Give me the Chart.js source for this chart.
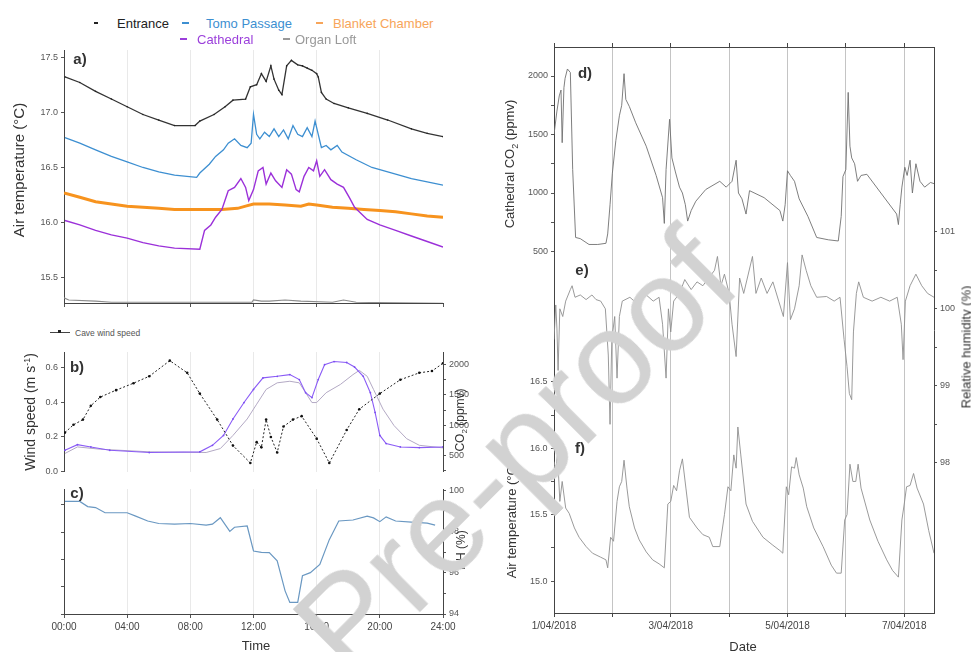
<!DOCTYPE html>
<html>
<head>
<meta charset="utf-8">
<script src="https://cdn.jsdelivr.net/npm/chart.js@4.4.1/dist/chart.umd.min.js"></script>
<style>
  body { margin: 0; background: #fff; font-family: "Liberation Sans", Arial, sans-serif; }
  #fig { position: relative; width: 971px; height: 652px; overflow: hidden; background: #fff; }
  #fig canvas { position: absolute; }
  .t { position: absolute; white-space: nowrap; color: #333; transform: translate(-50%, -50%); z-index: 3; }
  .v { transform: translate(-50%, -50%) rotate(-90deg); }
  .pl { font-weight: bold; font-size: 15px; color: #333; }
  .lg { position: absolute; white-space: nowrap; font-size: 13px; transform: translateY(-50%); z-index: 3; }
  .mk { position: absolute; height: 1.5px; width: 7px; z-index: 3; }
  #wm { position: absolute; left: 515px; top: 452px; transform: translate(-50%, -50%) rotate(-45deg);
        font-size: 134px; line-height: 1; color: #d2d2d2; white-space: nowrap; z-index: 5; }
</style>
</head>
<body>
<div id="fig">
  <canvas id="cA" width="471" height="275" style="left:0;top:40px"></canvas>
  <canvas id="cB" width="471" height="140" style="left:0;top:340px"></canvas>
  <canvas id="cC" width="471" height="172" style="left:0;top:480px"></canvas>
  <canvas id="cR" width="491" height="622" style="left:480px;top:30px"></canvas>

  <!-- legende pannello a -->
  <span class="mk" style="left:94px;top:22px;background:#222;width:4px;height:2px"></span>
  <span class="lg" style="left:117px;top:23px;color:#222">Entrance</span>
  <span class="mk" style="left:182px;top:22px;background:#3d8fd1"></span>
  <span class="lg" style="left:206px;top:23px;color:#3d8fd1">Tomo Passage</span>
  <span class="mk" style="left:316px;top:22px;background:#f7a55a"></span>
  <span class="lg" style="left:333px;top:23px;color:#f7a55a">Blanket Chamber</span>
  <span class="mk" style="left:180px;top:38px;background:#9b3fdb"></span>
  <span class="lg" style="left:197px;top:39px;color:#9b3fdb">Cathedral</span>
  <span class="mk" style="left:283px;top:38px;background:#999"></span>
  <span class="lg" style="left:295px;top:39px;color:#999">Organ Loft</span>

  <!-- legenda pannello b -->
  <span class="mk" style="left:50px;top:332px;background:#444;width:20px;height:1px"></span>
  <span class="mk" style="left:58px;top:330px;background:#222;width:3px;height:3px"></span>
  <span class="lg" style="left:75px;top:333px;color:#555;font-size:8.5px">Cave wind speed</span>

  <!-- titoli assi -->
  <div class="t v" style="left:18px;top:170px;font-size:15px">Air temperature (°C)</div>
  <div class="t v" style="left:30px;top:412px;font-size:14px">Wind speed (m s<sup style="font-size:9px">-1</sup>)</div>
  <div class="t v" style="left:461px;top:420px;font-size:12px">CO<sub style="font-size:8px">2</sub> (ppmv)</div>
  <div class="t v" style="left:461px;top:550px;font-size:12px">RH (%)</div>
  <div class="t" style="left:256px;top:645px;font-size:13px">Time</div>
  <div class="t v" style="left:511px;top:164px;font-size:13px">Cathedral CO<sub style="font-size:9px">2</sub> (ppmv)</div>
  <div class="t v" style="left:511px;top:520px;font-size:13px">Air temperature (°C)</div>
  <div class="t v" style="left:966px;top:347px;font-size:13px">Relative humidity (%)</div>
  <div class="t" style="left:743px;top:646px;font-size:13px">Date</div>

  <!-- etichette pannelli -->
  <div class="t pl" style="left:80px;top:58px">a)</div>
  <div class="t pl" style="left:77px;top:366px">b)</div>
  <div class="t pl" style="left:77px;top:492px">c)</div>
  <div class="t pl" style="left:585px;top:72px">d)</div>
  <div class="t pl" style="left:582px;top:269px">e)</div>
  <div class="t pl" style="left:580px;top:447px">f)</div>

  <div id="wm">Pre-proof</div>
</div>

<script>
// --- a) temperatura dell'aria per sito (ora del giorno, °C) ---
const entHr  = [0.06,1,2,3,4,5,6,7,8.3,8.6,9.5,10.2,10.7,11.5,11.8,12.2,12.5,12.8,13.1,13.3,13.6,13.8,14.1,14.4,14.8,15.1,15.4,15.7,16.0,16.1,16.3,16.6,17.1,18,19.2,20.5,22,23,24];
const entT   = [17.32,17.27,17.19,17.12,17.05,16.98,16.93,16.88,16.88,16.92,16.98,17.05,17.11,17.12,17.23,17.25,17.35,17.28,17.42,17.30,17.2,17.16,17.42,17.47,17.43,17.42,17.4,17.38,17.35,17.32,17.18,17.12,17.08,17.04,16.99,16.93,16.85,16.81,16.78];
const tomoHr = [0.06,1,2,3,4,5,6,7,8.4,8.6,9.2,9.6,10.1,10.4,10.8,11.2,11.6,11.85,12.0,12.2,12.4,12.7,13.0,13.3,13.6,13.9,14.2,14.5,14.8,15.1,15.4,15.7,15.9,16.1,16.3,16.6,16.9,17.3,17.6,18.5,19.5,20.5,22,23,24];
const tomoT  = [16.77,16.72,16.66,16.6,16.55,16.5,16.46,16.43,16.41,16.45,16.53,16.6,16.66,16.72,16.76,16.7,16.68,16.72,16.98,16.8,16.76,16.82,16.78,16.85,16.78,16.84,16.76,16.88,16.8,16.78,16.86,16.78,16.92,16.8,16.68,16.7,16.66,16.7,16.64,16.57,16.5,16.46,16.4,16.37,16.34];
const cathHr = [0.06,1,2,3,4,5,6,7,8.6,8.9,9.3,9.6,10.0,10.4,10.8,11.2,11.5,11.7,12.0,12.3,12.6,12.8,13.1,13.4,13.8,14.1,14.4,14.7,14.9,15.2,15.5,15.8,16.0,16.2,16.5,16.9,17.3,17.7,18.1,18.4,19.2,20,21,22,23,24];
const cathT  = [16.02,15.98,15.93,15.89,15.86,15.82,15.79,15.77,15.76,15.93,15.98,16.05,16.12,16.29,16.32,16.4,16.32,16.2,16.3,16.47,16.5,16.35,16.45,16.38,16.32,16.48,16.44,16.3,16.28,16.42,16.5,16.47,16.56,16.42,16.48,16.39,16.35,16.32,16.22,16.14,16.03,15.98,15.93,15.88,15.83,15.78];
const blanketHr = [0,1,2,3,4,5,6,7,8,9,10,11,11.5,12,13,14,15,15.5,16,17,18,19,20,21,22,23,24];
const blanketT  = [16.27,16.23,16.19,16.17,16.15,16.14,16.13,16.12,16.12,16.12,16.12,16.13,16.15,16.17,16.17,16.16,16.15,16.17,16.16,16.14,16.13,16.12,16.11,16.1,16.08,16.06,16.05];
const organHr = [0,0.3,2,3,8,11.9,12,12.5,13,14,15,17,17.7,18.5,24];
const organT  = [15.32,15.3,15.29,15.28,15.28,15.28,15.3,15.29,15.29,15.3,15.29,15.28,15.3,15.28,15.27];

// --- b) vento (m/s) e CO2 (ppmv) ---
const windHr = [0.06,0.6,1.2,1.7,2.3,3.3,4.4,5.4,6.7,7.8,8.6,9.7,10.7,11.8,12.2,12.5,12.8,13.1,13.5,13.9,14.5,15.05,16.0,16.8,17.9,18.7,20.0,21.3,22.5,23.3,24.0];
const windMs = [0.225,0.27,0.30,0.38,0.43,0.47,0.51,0.55,0.64,0.57,0.45,0.30,0.15,0.05,0.17,0.14,0.30,0.20,0.11,0.26,0.30,0.32,0.19,0.05,0.24,0.36,0.45,0.53,0.57,0.58,0.625];
const co2CathHr = [0.06,0.85,1.7,2.9,5.4,8.6,9.4,10.1,10.7,11.4,12.0,12.6,13.5,14.3,14.9,15.3,15.7,16.1,16.5,17.1,17.9,18.4,18.95,19.4,19.7,20.0,20.4,21.3,22.5,24];
const co2Cath   = [586,679,641,586,549,560,668,831,1103,1375,1592,1783,1809,1837,1755,1538,1457,1755,2000,2053,2037,1962,1809,1538,1212,831,696,641,630,641];
const co2OrganHr = [0.06,0.85,2.3,5.4,9.0,9.9,10.7,11.6,12.2,12.8,13.5,14.3,14.9,15.3,15.7,16.0,16.6,17.5,18.3,18.7,19.2,19.6,20.2,20.9,21.7,22.5,24];
const co2Organ   = [533,641,603,560,549,614,831,1103,1348,1592,1701,1727,1701,1538,1375,1375,1538,1674,1837,1907,1809,1592,1266,994,777,668,625];

// --- c) umidità relativa (%) ---
const rhHr = [0.06,1.0,1.5,2,2.6,4,4.5,5.3,6,7,8,9,9.4,9.9,10.5,10.8,11.6,12.0,12.5,13.0,13.5,14.0,14.3,14.8,15.1,15.6,16.2,16.8,17.4,18.3,19.2,19.6,20.0,20.4,21.0,22.0,23.0,23.5];
const rhPct = [99.45,99.45,99.2,99.15,98.9,98.9,98.75,98.5,98.38,98.35,98.38,98.3,98.35,98.66,98.0,98.2,98.26,97.05,96.98,96.97,96.57,95.12,94.56,94.56,95.85,96.0,96.4,97.6,98.5,98.55,98.74,98.65,98.47,98.7,98.5,98.45,98.4,98.3];

// --- d/e/f) serie settimanale (giorni dal 1/04/2018) ---
const dDays = [0.0,0.05,0.09,0.12,0.14,0.17,0.19,0.23,0.28,0.32,0.37,0.45,0.6,0.75,0.89,0.92,0.96,1.0,1.06,1.12,1.16,1.2,1.23,1.29,1.4,1.58,1.75,1.86,1.89,1.92,1.98,2.02,2.08,2.15,2.2,2.25,2.29,2.35,2.43,2.6,2.84,2.95,3.05,3.12,3.16,3.22,3.29,3.35,3.6,3.87,3.92,3.96,4.0,4.05,4.12,4.2,4.27,4.35,4.5,4.7,4.87,4.92,4.95,5.0,5.04,5.07,5.1,5.15,5.2,5.26,5.36,5.6,5.87,5.9,5.93,5.96,6.01,6.05,6.1,6.14,6.2,6.27,6.35,6.45,6.51];
const dCO2  = [1500,1700,1830,1880,1430,1900,1980,2060,2030,1200,620,610,560,560,570,650,900,1170,1450,1660,1750,2020,1800,1740,1600,1400,1150,960,740,1200,1630,1300,1180,1050,1000,900,760,850,930,1030,1100,1050,1100,1280,1000,950,820,1020,960,850,760,900,1190,1150,1100,950,880,800,620,600,590,800,1140,1200,1860,1400,1300,1250,1100,1150,1160,1000,820,730,900,1050,1220,1150,1280,1000,1250,1100,1050,1090,1080];
const eDays = [0.0,0.03,0.05,0.07,0.1,0.15,0.2,0.28,0.31,0.36,0.45,0.55,0.65,0.72,0.8,0.88,0.93,0.96,0.99,1.04,1.08,1.12,1.17,1.3,1.45,1.55,1.7,1.8,1.86,1.92,1.96,2.0,2.05,2.15,2.24,2.35,2.45,2.55,2.65,2.75,2.8,2.86,2.92,3.0,3.05,3.12,3.18,3.25,3.4,3.46,3.55,3.65,3.75,3.85,3.93,4.0,4.05,4.12,4.2,4.25,4.32,4.4,4.5,4.67,4.8,4.9,4.97,5.02,5.06,5.1,5.13,5.18,5.22,5.3,5.45,5.6,5.75,5.88,5.95,5.98,6.02,6.1,6.2,6.3,6.4,6.51];
const eRH   = [99.6,100.05,99.75,99.2,100.0,99.9,100.1,100.25,100.3,100.15,100.18,100.12,100.18,100.12,100.1,100.0,99.4,98.5,99.6,99.9,99.1,99.9,100.1,100.15,100.05,100.2,100.1,100.15,99.8,99.1,100.0,99.7,100.1,100.2,100.38,100.25,100.35,100.3,100.4,100.5,100.68,100.3,100.45,100.2,99.8,99.38,100.4,100.2,100.68,100.2,100.4,100.2,100.35,100.1,99.9,100.6,99.86,100.0,100.3,100.7,100.5,100.3,100.15,100.16,100.1,100.15,99.6,99.25,98.9,98.82,99.7,100.2,100.35,100.15,100.1,100.15,100.1,100.15,99.8,99.34,100.1,100.3,100.45,100.3,100.2,100.15];
const fDays = [0.0,0.03,0.06,0.1,0.14,0.2,0.26,0.35,0.43,0.55,0.66,0.8,0.89,0.92,0.97,1.02,1.08,1.12,1.16,1.2,1.25,1.29,1.38,1.46,1.58,1.69,1.8,1.89,1.95,2.0,2.05,2.1,2.15,2.2,2.26,2.32,2.45,2.55,2.66,2.72,2.84,2.92,2.98,3.03,3.08,3.12,3.15,3.2,3.29,3.4,3.58,3.75,3.87,3.92,3.98,4.02,4.07,4.12,4.15,4.2,4.27,4.33,4.45,4.61,4.75,4.84,4.92,4.98,5.02,5.07,5.12,5.17,5.21,5.26,5.41,5.55,5.7,5.8,5.9,5.96,6.0,6.04,6.1,6.16,6.22,6.33,6.42,6.51];
const fTemp = [15.9,15.83,15.96,15.6,15.75,15.55,15.51,15.4,15.33,15.26,15.21,15.18,15.16,15.1,15.33,15.3,15.6,15.71,15.75,15.91,15.7,15.56,15.4,15.31,15.22,15.16,15.13,15.1,15.58,15.6,15.72,15.68,15.83,15.92,15.7,15.48,15.4,15.35,15.33,15.26,15.26,15.5,15.71,15.68,15.95,15.85,16.16,15.95,15.58,15.45,15.33,15.27,15.23,15.21,15.71,15.65,15.86,15.85,15.93,15.8,15.7,15.56,15.4,15.26,15.12,15.06,15.06,15.46,15.5,15.88,15.75,15.75,15.88,15.7,15.46,15.3,15.16,15.08,15.03,15.46,15.58,15.71,15.72,15.81,15.7,15.58,15.38,15.21];

// tick
const hourTicks = [0,4,8,12,16,20,24];
const dayTicks = [0,1,2,3,4,5,6];

Chart.defaults.font.family = '"Liberation Sans", Arial, sans-serif';
Chart.defaults.font.size = 9;
Chart.defaults.color = '#555';
Chart.defaults.animation = false;
Chart.defaults.responsive = false;
Chart.defaults.plugins.legend.display = false;
Chart.defaults.plugins.tooltip.enabled = false;
Chart.defaults.elements.point.radius = 0;
Chart.defaults.elements.line.tension = 0;

const xy = (xs, ys) => xs.map((x, i) => ({ x, y: ys[i] }));
const setW = w => s => { s.width = w; };
const setH = h => s => { s.height = h; };
const at = vals => s => { s.ticks = vals.map(v => ({ value: v })); };
const NONE = 'rgba(0,0,0,0)';

// asse orario condiviso dai pannelli a/b/c
function hourAxis(h, labels, border){
  return {
    type: 'linear', min: 0, max: 24,
    afterBuildTicks: at(hourTicks), afterFit: setH(h),
    grid: {
      color: c => (c.tick && c.tick.value > 0 && c.tick.value < 24) ? '#e9e9e9' : NONE,
      drawTicks: border, tickLength: 4, tickColor: '#555'
    },
    border: { display: border, color: '#444' },
    ticks: { display: labels, padding: 3, color: '#444', font: { size: 10 },
      callback: v => String(v).padStart(2, '0') + ':00' }
  };
}
function sideAxis(pos, w, min, max, ticks, fmt, extra){
  return Object.assign({
    type: 'linear', position: pos, min, max,
    afterBuildTicks: at(ticks), afterFit: setW(w),
    grid: { drawOnChartArea: false, tickLength: 3, tickColor: '#555' },
    border: { color: '#444' },
    ticks: { padding: 3, callback: fmt }
  }, extra || {});
}

// a)
new Chart(document.getElementById('cA'), {
  type: 'line',
  data: { datasets: [
    { data: xy(entHr, entT), borderColor: '#333', borderWidth: 1.3, pointRadius: 0.8, pointBackgroundColor: '#222', pointBorderWidth: 0 },
    { data: xy(tomoHr, tomoT), borderColor: '#3d8fd1', borderWidth: 1.3 },
    { data: xy(cathHr, cathT), borderColor: '#9b30d9', borderWidth: 1.4 },
    { data: xy(blanketHr, blanketT), borderColor: '#f7931e', borderWidth: 3 },
    { data: xy(organHr, organT), borderColor: '#8c8c8c', borderWidth: 1.2 }
  ]},
  options: {
    devicePixelRatio: 1,
    layout: { padding: { top: 10, right: 28, left: 0, bottom: 0 } },
    scales: {
      x: hourAxis(12, false, true),
      y: sideAxis('left', 64, 15.273, 17.564, [15.5, 16, 16.5, 17, 17.5], v => v.toFixed(1))
    }
  }
});

// b)
new Chart(document.getElementById('cB'), {
  type: 'line',
  data: { datasets: [
    { data: xy(windHr, windMs), yAxisID: 'y', borderColor: '#222', borderWidth: 1, borderDash: [2, 2],
      pointRadius: 1.3, pointBackgroundColor: '#111', pointBorderWidth: 0 },
    { data: xy(co2CathHr, co2Cath), yAxisID: 'yC', borderColor: '#8b5cf6', borderWidth: 1.1,
      pointRadius: 0.9, pointBackgroundColor: '#7b4ff0', pointBorderWidth: 0 },
    { data: xy(co2OrganHr, co2Organ), yAxisID: 'yC', borderColor: '#b3a9c4', borderWidth: 1 }
  ]},
  options: {
    devicePixelRatio: 1,
    layout: { padding: { top: 12, right: 0, left: 0, bottom: 0 } },
    scales: {
      x: hourAxis(6, false, false),
      y: sideAxis('left', 64, 0, 0.69, [0, 0.2, 0.4, 0.6], v => v.toFixed(1)),
      yC: sideAxis('right', 28, 233, 2211, [250, 500, 750, 1000, 1250, 1500, 1750, 2000],
        v => v % 500 === 0 ? String(v) : '')
    }
  }
});

// c)
new Chart(document.getElementById('cC'), {
  type: 'line',
  data: { datasets: [
    { data: xy(rhHr, rhPct), yAxisID: 'yR', borderColor: '#6a98c2', borderWidth: 1.2 }
  ]},
  options: {
    devicePixelRatio: 1,
    layout: { padding: { top: 9, right: 0, left: 0, bottom: 0 } },
    scales: {
      x: hourAxis(38, true, true),
      y: sideAxis('left', 64, 0, 4.58, [0, 1, 2, 3, 4], () => ''),
      yR: sideAxis('right', 28, 94, 100.05, [94, 95, 96, 97, 98, 99, 100],
        v => v % 2 === 0 ? String(v) : '')
    }
  }
});

// d/e/f) tre assi y sulla stessa area: CO2 e temperatura a sinistra, RH a destra.
// L'asse temperatura ha larghezza 0: etichette "mirror" con padding negativo,
// altrimenti Chart.js le ritaglia sulla larghezza dell'asse.
new Chart(document.getElementById('cR'), {
  type: 'line',
  data: { datasets: [
    { data: xy(dDays, dCO2), yAxisID: 'yC', borderColor: '#707070', borderWidth: 0.9 },
    { data: xy(eDays, eRH), yAxisID: 'yR', borderColor: '#8e8e8e', borderWidth: 0.9 },
    { data: xy(fDays, fTemp), yAxisID: 'yT', borderColor: '#8e8e8e', borderWidth: 0.9 }
  ]},
  options: {
    devicePixelRatio: 1,
    layout: { padding: 0 },
    scales: {
      x: {
        type: 'linear', position: 'bottom', min: 0, max: 6.51,
        afterBuildTicks: at(dayTicks), afterFit: setH(39),
        grid: { color: c => (c.tick && c.tick.value > 0) ? '#c4c4c4' : NONE, tickLength: 4, tickColor: '#444' },
        border: { color: '#444' },
        ticks: { padding: 3, color: '#444', font: { size: 10 },
          callback: v => v % 2 === 0 ? (v + 1) + '/04/2018' : '' }
      },
      x2: {
        type: 'linear', position: 'top', min: 0, max: 6.51,
        afterBuildTicks: at(dayTicks), afterFit: setH(17),
        grid: { drawOnChartArea: false, tickLength: 4, tickColor: '#444' },
        border: { color: '#444' },
        ticks: { display: false }
      },
      yC: sideAxis('left', 74, -2590, 2248, [500, 750, 1000, 1250, 1500, 1750, 2000],
        v => v % 500 === 0 ? String(v) : '', { weight: 1 }),
      yT: sideAxis('left', 0, 14.76, 19.02, [15, 15.25, 15.5, 15.75, 16, 16.25, 16.5],
        v => (Math.round(v * 100) % 50 === 0) ? v.toFixed(1) : '',
        { weight: 0, ticks: { mirror: true, crossAlign: 'near', padding: -24,
          callback: v => (Math.round(v * 100) % 50 === 0) ? v.toFixed(1) : '' } }),
      yR: sideAxis('right', 37, 96.05, 103.40, [98, 98.5, 99, 99.5, 100, 100.5, 101],
        v => Number.isInteger(v) ? String(v) : '')
    }
  }
});
</script>
</body>
</html>
